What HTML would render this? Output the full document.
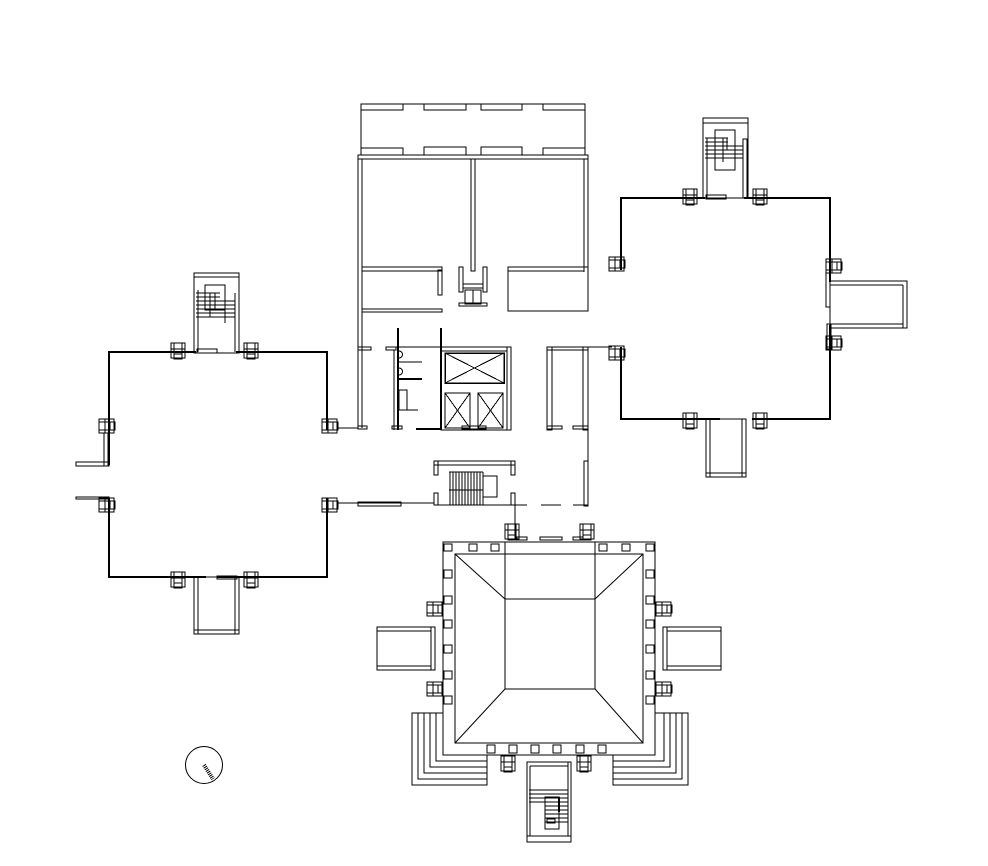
<!DOCTYPE html>
<html><head><meta charset="utf-8"><style>html,body{margin:0;padding:0;background:#fff}svg{display:block}</style></head>
<body>
<svg width="988" height="866" viewBox="0 0 988 866" xmlns="http://www.w3.org/2000/svg" fill="none" stroke="#000" stroke-width="1" shape-rendering="crispEdges">
<defs>
<g id="cv"><rect x="-7" y="-8" width="14" height="6"/><rect x="-4" y="-8" width="8" height="16"/><rect x="-7" y="-2" width="14" height="9"/><line x1="-4" y1="3" x2="4" y2="3"/></g>
<g id="ch"><rect x="-8" y="-7" width="6" height="14"/><rect x="-8" y="-4" width="16" height="8"/><rect x="-2" y="-7" width="9" height="14"/><line x1="3" y1="-4" x2="3" y2="4"/></g>
</defs>

<!-- LEFT WING -->
<g stroke-width="2">
<polyline points="196,352 109,352 109,465"/>
<polyline points="236,352 327,352 327,430"/>
<polyline points="109,498 109,577 206,577"/>
<polyline points="217,577 327,577 327,498"/>
</g>
<rect x="76" y="462" width="33" height="4"/>
<rect x="76" y="497" width="33" height="2"/>
<rect x="104" y="433" width="4" height="33"/>
<rect x="194" y="273" width="45" height="80"/><line x1="194" y1="277" x2="239" y2="277"/>
<line x1="198" y1="290" x2="198" y2="352"/><line x1="235" y1="293" x2="235" y2="352"/>
<rect x="197" y="349" width="20" height="4"/>
<rect x="205" y="285" width="20" height="25"/>
<g stroke-width="1"><line x1="196" y1="293" x2="220" y2="293"/><line x1="196" y1="297" x2="220" y2="297"/><line x1="196" y1="301" x2="235" y2="301"/><line x1="196" y1="305" x2="235" y2="305"/><line x1="196" y1="309" x2="235" y2="309"/><line x1="196" y1="313" x2="235" y2="313"/><line x1="196" y1="317" x2="235" y2="317"/><line x1="210" y1="293" x2="210" y2="317"/><line x1="215" y1="293" x2="215" y2="310"/><line x1="225" y1="310" x2="225" y2="323"/></g>
<rect x="194" y="577" width="45" height="57"/><line x1="198" y1="577" x2="198" y2="634"/><line x1="235" y1="577" x2="235" y2="634"/><line x1="194" y1="630" x2="239" y2="630"/>
<rect x="217" y="576" width="20" height="3"/>
<use href="#cv" x="178" y="351"/><use href="#cv" x="251" y="351"/>
<use href="#cv" x="178" y="580"/><use href="#cv" x="251" y="580"/>
<use href="#ch" x="107" y="426"/><use href="#ch" x="330" y="426"/>
<use href="#ch" x="107" y="505"/><use href="#ch" x="330" y="505"/>
<line x1="338" y1="428" x2="358" y2="428"/><line x1="338" y1="503" x2="434" y2="503"/>
<rect x="358" y="502" width="43" height="4"/>

<!-- CENTRAL BLOCK -->
<rect x="361" y="104" width="224" height="51"/>
<rect x="361" y="104" width="42" height="6"/><rect x="424" y="104" width="42" height="6"/><rect x="481" y="104" width="41" height="6"/><rect x="543" y="104" width="42" height="6"/>
<rect x="361" y="148" width="42" height="7"/><rect x="424" y="147" width="42" height="8"/><rect x="481" y="147" width="41" height="8"/><rect x="543" y="148" width="42" height="7"/>
<rect x="358" y="155" width="230" height="4"/>
<line x1="358" y1="155" x2="358" y2="428"/><line x1="362" y1="159" x2="362" y2="428"/>
<line x1="584" y1="159" x2="584" y2="272"/><line x1="588" y1="155" x2="588" y2="277"/>
<line x1="588" y1="297" x2="588" y2="311"/>
<rect x="471" y="159" width="4" height="112"/>
<rect x="362" y="267" width="80" height="4"/><rect x="438" y="270" width="4" height="25"/>
<rect x="362" y="309" width="80" height="3"/>
<rect x="459" y="267" width="4" height="25"/><rect x="483" y="267" width="4" height="25"/>
<rect x="463" y="284" width="20" height="4"/><rect x="465" y="290" width="16" height="14"/><line x1="473" y1="290" x2="473" y2="304"/>
<rect x="459" y="303" width="28" height="3"/>
<rect x="508" y="267" width="80" height="44"/><line x1="508" y1="271" x2="584" y2="271"/>
<!-- lower center -->
<rect x="358" y="347" width="13" height="3"/><rect x="386" y="347" width="10" height="3"/>
<line x1="396" y1="347" x2="441" y2="347"/>
<rect x="358" y="426" width="9" height="3"/>
<line x1="398" y1="328" x2="398" y2="430" stroke-width="2"/><line x1="441" y1="328" x2="441" y2="430" stroke-width="2"/>
<line x1="394" y1="350" x2="394" y2="430"/>
<line x1="398" y1="379" x2="422" y2="379" stroke-width="2"/>
<line x1="398" y1="362" x2="422" y2="362"/><line x1="398" y1="410" x2="418" y2="410"/>
<path d="M399 351 a3 3 0 0 1 0 7 M399 368 a3 3 0 0 1 0 7" shape-rendering="auto"/>
<rect x="399" y="390" width="8" height="20"/>
<rect x="392" y="426" width="10" height="3"/><line x1="416" y1="429" x2="441" y2="429" stroke-width="2"/>
<rect x="441" y="347" width="70" height="83"/><line x1="441" y1="351" x2="507" y2="351"/><line x1="507" y1="347" x2="507" y2="430"/>
<rect x="445" y="353" width="59" height="30" stroke-width="1.5"/><line x1="445" y1="353" x2="504" y2="383"/><line x1="504" y1="353" x2="445" y2="383"/>
<rect x="445" y="393" width="25" height="35"/><line x1="445" y1="393" x2="470" y2="428"/><line x1="470" y1="393" x2="445" y2="428"/>
<rect x="478" y="393" width="25" height="35"/><line x1="478" y1="393" x2="503" y2="428"/><line x1="503" y1="393" x2="478" y2="428"/>
<rect x="462" y="426" width="24" height="3"/>
<rect x="547" y="347" width="41" height="3"/><rect x="547" y="347" width="5" height="83"/><rect x="583" y="347" width="5" height="83"/>
<rect x="547" y="426" width="15" height="3"/><rect x="573" y="426" width="15" height="3"/>
<line x1="588" y1="347" x2="612" y2="347"/>
<line x1="588" y1="430" x2="588" y2="461"/><rect x="584" y="461" width="4" height="45"/>
<!-- stair -->
<rect x="434" y="461" width="81" height="4"/><rect x="434" y="461" width="4" height="14"/><rect x="511" y="461" width="4" height="14"/>
<rect x="434" y="493" width="4" height="12"/><rect x="511" y="493" width="4" height="12"/>
<line x1="434" y1="505" x2="527" y2="505"/>
<g><line x1="450" y1="472" x2="450" y2="505"/><line x1="453" y1="472" x2="453" y2="505"/><line x1="456" y1="472" x2="456" y2="505"/><line x1="459" y1="472" x2="459" y2="505"/><line x1="462" y1="472" x2="462" y2="505"/><line x1="465" y1="472" x2="465" y2="505"/><line x1="468" y1="472" x2="468" y2="505"/><line x1="471" y1="472" x2="471" y2="505"/><line x1="474" y1="472" x2="474" y2="505"/><line x1="477" y1="472" x2="477" y2="505"/><line x1="480" y1="472" x2="480" y2="505"/><line x1="483" y1="472" x2="483" y2="505"/><line x1="449" y1="472" x2="483" y2="472"/><line x1="449" y1="490" x2="483" y2="490"/><rect x="483" y="476" width="14" height="21"/></g>
<line x1="541" y1="505" x2="561" y2="505"/><line x1="573" y1="505" x2="588" y2="505"/>
<line x1="515" y1="505" x2="515" y2="540"/>
<rect x="540" y="537" width="22" height="3"/><rect x="517" y="537" width="10" height="3"/><rect x="573" y="537" width="10" height="3"/>
<use href="#cv" x="512" y="532"/><use href="#cv" x="587" y="532"/>

<!-- RIGHT WING -->
<g stroke-width="2">
<polyline points="705,198 621,198 621,270"/>
<polyline points="744,198 830,198 830,282"/>
<polyline points="830,325 830,419 752,419"/>
<polyline points="720,419 621,419 621,347"/>
</g>
<rect x="703" y="118" width="45" height="80"/><line x1="703" y1="123" x2="748" y2="123"/>
<line x1="707" y1="138" x2="707" y2="198"/><rect x="743" y="139" width="4" height="59"/>
<rect x="706" y="195" width="20" height="4"/>
<rect x="715" y="130" width="20" height="40"/>
<g><line x1="705" y1="138" x2="728" y2="138"/><line x1="705" y1="142" x2="728" y2="142"/><line x1="705" y1="146" x2="743" y2="146"/><line x1="705" y1="150" x2="743" y2="150"/><line x1="705" y1="154" x2="743" y2="154"/><line x1="705" y1="158" x2="743" y2="158"/><line x1="723" y1="138" x2="723" y2="162"/><line x1="727" y1="138" x2="727" y2="150"/></g>
<rect x="706" y="419" width="40" height="58"/><line x1="710" y1="419" x2="710" y2="477"/><line x1="742" y1="419" x2="742" y2="477"/><line x1="706" y1="473" x2="746" y2="473"/>
<rect x="826" y="262" width="4" height="45"/><rect x="827" y="324" width="4" height="25"/>
<rect x="830" y="281" width="77" height="47"/><line x1="830" y1="285" x2="903" y2="285"/><line x1="830" y1="324" x2="903" y2="324"/><line x1="903" y1="285" x2="903" y2="328"/>
<use href="#cv" x="690" y="197"/><use href="#cv" x="760" y="197"/>
<use href="#cv" x="690" y="421"/><use href="#cv" x="760" y="421"/>
<use href="#ch" x="617" y="264"/><use href="#ch" x="617" y="353"/>
<use href="#ch" x="834" y="266"/><use href="#ch" x="834" y="343"/>

<!-- BOTTOM PAVILION -->
<rect x="443" y="542" width="212" height="213"/>
<rect x="455" y="554" width="188" height="189"/>
<rect x="505" y="599" width="90" height="90"/>
<line x1="505" y1="542" x2="505" y2="599"/><line x1="595" y1="542" x2="595" y2="599"/>
<g shape-rendering="auto">
<line x1="455" y1="554" x2="505" y2="599"/><line x1="643" y1="554" x2="595" y2="599"/>
<line x1="455" y1="743" x2="505" y2="689"/><line x1="643" y1="743" x2="595" y2="689"/>
</g>
<g>
<rect x="444" y="544" width="8" height="7"/><rect x="469" y="544" width="8" height="7"/><rect x="491" y="544" width="8" height="7"/>
<rect x="599" y="544" width="8" height="7"/><rect x="622" y="544" width="8" height="7"/><rect x="646" y="544" width="8" height="7"/>
<rect x="444" y="570" width="8" height="8"/><rect x="444" y="596" width="8" height="8"/><rect x="444" y="620" width="8" height="8"/><rect x="444" y="645" width="8" height="8"/><rect x="444" y="671" width="8" height="8"/><rect x="444" y="696" width="8" height="8"/>
<rect x="646" y="570" width="8" height="8"/><rect x="646" y="596" width="8" height="8"/><rect x="646" y="620" width="8" height="8"/><rect x="646" y="645" width="8" height="8"/><rect x="646" y="671" width="8" height="8"/><rect x="646" y="696" width="8" height="8"/>
<rect x="487" y="745" width="8" height="8"/><rect x="509" y="745" width="8" height="8"/><rect x="531" y="745" width="8" height="8"/><rect x="553" y="745" width="8" height="8"/><rect x="576" y="745" width="8" height="8"/><rect x="598" y="745" width="8" height="8"/>
</g>
<use href="#ch" x="435" y="609"/><use href="#ch" x="435" y="689"/>
<use href="#ch" x="664" y="609"/><use href="#ch" x="664" y="689"/>
<use href="#cv" x="508" y="764"/><use href="#cv" x="584" y="764"/>
<rect x="377" y="627" width="58" height="43"/><line x1="377" y1="631" x2="431" y2="631"/><line x1="377" y1="666" x2="431" y2="666"/><line x1="431" y1="627" x2="431" y2="670"/>
<rect x="663" y="627" width="58" height="43"/><line x1="667" y1="631" x2="721" y2="631"/><line x1="667" y1="666" x2="721" y2="666"/><line x1="667" y1="627" x2="667" y2="670"/>
<!-- steps -->
<polyline points="443,713 412,713 412,785 487,785 487,755"/>
<polyline points="418,713 418,779 487,779"/><polyline points="424,713 424,773 487,773"/><polyline points="430,713 430,767 487,767"/><polyline points="436,713 436,761 487,761"/>
<polyline points="655,713 688,713 688,785 613,785 613,755"/>
<polyline points="682,713 682,779 613,779"/><polyline points="676,713 676,773 613,773"/><polyline points="670,713 670,767 613,767"/><polyline points="664,713 664,761 613,761"/>
<!-- bottom stair -->
<rect x="527" y="762" width="44" height="80"/><line x1="530" y1="766" x2="568" y2="766"/><line x1="530" y1="766" x2="530" y2="836"/><line x1="568" y1="762" x2="568" y2="836"/><line x1="527" y1="836" x2="571" y2="836"/>
<g><line x1="529" y1="790" x2="568" y2="790"/><line x1="529" y1="794" x2="568" y2="794"/><line x1="529" y1="798" x2="568" y2="798"/><line x1="529" y1="802" x2="568" y2="802"/><line x1="545" y1="806" x2="568" y2="806"/><line x1="545" y1="810" x2="568" y2="810"/><line x1="545" y1="814" x2="568" y2="814"/><line x1="545" y1="818" x2="568" y2="818"/><line x1="545" y1="822" x2="568" y2="822"/><rect x="545" y="797" width="14" height="32"/><rect x="547" y="819" width="8" height="4"/><line x1="559" y1="797" x2="559" y2="812" stroke-width="2"/></g>

<!-- compass -->
<circle cx="204" cy="765" r="18.5" shape-rendering="auto"/>
<line x1="204" y1="765" x2="213" y2="779" stroke-width="4" stroke-dasharray="1 1" shape-rendering="auto"/>
</svg>
</body></html>
